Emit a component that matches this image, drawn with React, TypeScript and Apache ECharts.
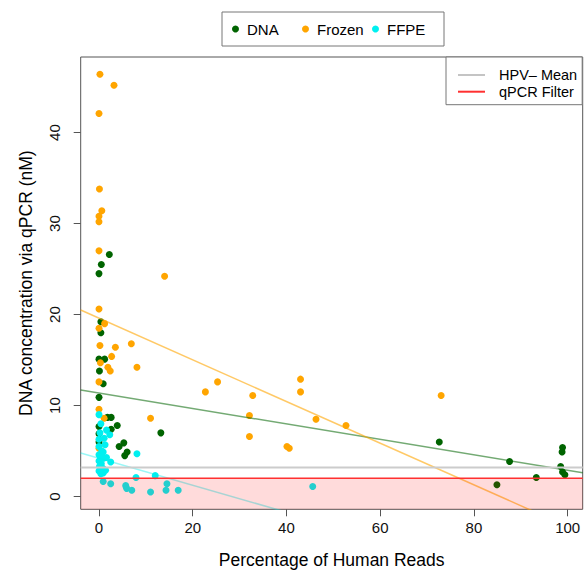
import React, { useEffect, useRef } from "react";
import * as echarts from "echarts";

// Sample measurements: [percentage of human reads, DNA concentration (nM)]
const dnaPoints: [number, number][] = [
  [2.2, 26.6], [0.5, 25.5], [0, 24.5], [0.4, 19.2], [0.4, 18.0], [0, 15.1], [1.2, 15.1],
  [0.1, 13.8], [0.9, 12.4], [0, 10.9], [1.8, 8.7], [2.6, 8.7], [0, 7.7], [3.9, 7.8],
  [2.6, 7.4], [13.2, 7.0], [0, 6.9], [0, 6.0], [5.3, 5.9], [4.3, 5.5], [6.0, 4.9],
  [5.5, 4.5], [72.6, 6.0], [87.6, 3.85], [93.3, 2.1], [84.9, 1.3], [98.9, 5.4],
  [98.8, 4.9], [98.5, 3.3], [98.9, 2.7], [99.4, 2.4],
];

const frozenPoints: [number, number][] = [
  [0.2, 46.4], [3.2, 45.2], [0, 42.1], [0.1, 33.8], [0.6, 31.4], [0, 30.8], [0, 30.2],
  [0, 27.0], [14.0, 24.2], [0, 20.6], [1.2, 19.0], [0, 18.5], [0.2, 16.6], [3.5, 16.4],
  [6.9, 16.8], [2.7, 15.4], [0.3, 14.7], [1.9, 14.2], [2.4, 13.8], [8.1, 14.2], [0, 12.6],
  [0, 9.6], [1.1, 8.6], [11.0, 8.6], [0, 5.3], [22.7, 11.5], [25.3, 12.6], [32.8, 11.1],
  [32.1, 8.9], [32.1, 6.6], [40.1, 5.5], [40.6, 5.3], [43.0, 12.9], [43.0, 11.5],
  [46.3, 8.5], [52.7, 7.8], [73.0, 11.1],
];

const ffpePoints: [number, number][] = [
  [0, 9.0], [0.4, 8.0], [0.2, 7.0], [1.6, 7.3], [2.3, 6.8], [1.1, 6.4], [0, 6.3], [1.3, 5.7],
  [0, 5.5], [0.6, 5.0], [0.9, 4.9], [8.1, 4.7], [0, 4.6], [0.3, 4.3], [1.6, 4.3], [1.0, 4.2],
  [0, 3.9], [2.5, 3.8], [0.5, 3.6], [0.1, 3.3], [0.8, 3.1], [1.4, 2.9], [0, 2.8], [0.9, 2.6],
  [0.4, 2.5], [7.9, 2.1], [12.0, 2.3], [0.9, 1.65], [2.5, 1.4], [5.7, 1.2], [5.9, 0.9],
  [7.0, 0.7], [11.0, 0.5], [14.3, 0.7], [14.5, 1.4], [16.9, 0.7], [45.6, 1.1],
];

// Fitted trend lines per sample type: [intercept, slope]
const dnaFit: [number, number] = [11.37, -0.0848];
const frozenFit: [number, number] = [19.6, -0.229];
const ffpeFit: [number, number] = [4.2, -0.148];

// Reference levels (nM)
const hpvNegMean = 3.2;
const qpcrFilter = 2.0;

const xTicks = [0, 20, 40, 60, 80, 100];
const yTicks = [0, 10, 20, 30, 40];

const X_MIN = -3.9;
const X_MAX = 103.2;
const Y_MIN = -1.4;
const Y_MAX = 48.3;

const FONT = "'Liberation Sans', Arial, Helvetica, sans-serif";

const fitLine = ([a, b]: [number, number]) => [
  [X_MIN, a + b * X_MIN],
  [X_MAX, a + b * X_MAX],
];

export default function App() {
  const ref = useRef<HTMLDivElement>(null);

  useEffect(() => {
    if (!ref.current) return;
    const chart = echarts.init(ref.current, undefined, { renderer: "svg" });

    const scatter = (name: string, data: [number, number][], color: string) => ({
      name,
      type: "scatter",
      data,
      symbol: "circle",
      symbolSize: 7,
      itemStyle: { color, opacity: 1 },
      z: 2,
      silent: true,
    });

    const trend = (name: string, fit: [number, number], color: string) => ({
      name,
      type: "line",
      data: fitLine(fit),
      showSymbol: false,
      clip: true,
      lineStyle: { color, width: 1.5 },
      itemStyle: { color },
      z: 3,
      silent: true,
    });

    chart.setOption({
      animation: false,
      textStyle: { fontFamily: FONT },
      grid: {
        left: 80.7,
        right: 1.3,
        top: 57,
        bottom: 68.7,
        show: true,
        borderColor: "#555",
        borderWidth: 1,
        backgroundColor: "transparent",
      },
      legend: [
        {
          data: ["DNA", "Frozen", "FFPE"],
          orient: "horizontal",
          left: 222,
          top: 12,
          padding: [8, 10],
          itemGap: 8,
          itemWidth: 7,
          itemHeight: 7,
          icon: "circle",
          borderColor: "#777",
          borderWidth: 1,
          textStyle: {
            fontFamily: FONT,
            fontSize: 15,
            color: "#000",
            width: 47,
            lineHeight: 18,
            padding: [0, 0, 0, 3],
          },
          selectedMode: false,
        },
        {
          data: [
            { name: "HPV– Mean", icon: "rect" },
            { name: "qPCR Filter", icon: "rect" },
          ],
          orient: "vertical",
          left: 446,
          top: 57,
          padding: [10, 5, 5, 12],
          itemGap: 0.7,
          itemWidth: 27,
          itemHeight: 2,
          borderColor: "#777",
          borderWidth: 1,
          backgroundColor: "#fff",
          textStyle: {
            fontFamily: FONT,
            fontSize: 14.5,
            color: "#000",
            lineHeight: 16,
            padding: [0, 0, 0, 9],
          },
          selectedMode: false,
        },
      ],
      xAxis: {
        type: "value",
        min: X_MIN,
        max: X_MAX,
        name: "Percentage of Human Reads",
        nameLocation: "middle",
        nameGap: 42,
        nameTextStyle: { fontFamily: FONT, fontSize: 17.5, color: "#000" },
        axisLine: { show: false, onZero: false },
        splitLine: { show: false },
        axisTick: {
          show: true,
          inside: false,
          length: 7,
          customValues: xTicks,
          lineStyle: { color: "#555", width: 1 },
        },
        axisLabel: {
          customValues: xTicks,
          fontFamily: FONT,
          fontSize: 15,
          color: "#111",
          margin: 11,
        },
      },
      yAxis: {
        type: "value",
        min: Y_MIN,
        max: Y_MAX,
        name: "DNA concentration via qPCR (nM)",
        nameLocation: "middle",
        nameGap: 46,
        nameTextStyle: { fontFamily: FONT, fontSize: 17.5, color: "#000" },
        axisLine: { show: false, onZero: false },
        splitLine: { show: false },
        axisTick: {
          show: true,
          inside: false,
          length: 7,
          customValues: yTicks,
          lineStyle: { color: "#555", width: 1 },
        },
        axisLabel: {
          customValues: yTicks,
          rotate: 90,
          fontFamily: FONT,
          fontSize: 15,
          color: "#111",
          margin: 19,
        },
      },
      series: [
        scatter("DNA", dnaPoints, "#006400"),
        scatter("Frozen", frozenPoints, "#FFA500"),
        scatter("FFPE", ffpePoints, "#00F0F0"),
        trend("DNA fit", dnaFit, "rgba(0,100,0,0.55)"),
        trend("Frozen fit", frozenFit, "rgba(255,165,0,0.6)"),
        trend("FFPE fit", ffpeFit, "rgba(0,235,235,0.4)"),
        {
          name: "HPV– Mean",
          type: "line",
          data: [
            [X_MIN, hpvNegMean],
            [X_MAX, hpvNegMean],
          ],
          showSymbol: false,
          lineStyle: { color: "#cccccc", width: 2 },
          itemStyle: { color: "#c4c4c4" },
          z: 4,
          silent: true,
        },
        {
          name: "qPCR Filter",
          type: "line",
          data: [
            [X_MIN, qpcrFilter],
            [X_MAX, qpcrFilter],
          ],
          showSymbol: false,
          lineStyle: { color: "#ff3030", width: 1.5 },
          itemStyle: { color: "#ff3030" },
          areaStyle: { origin: "start", color: "rgba(255,0,0,0.2)" },
          z: 5,
          silent: true,
        },
      ],
    });

    return () => chart.dispose();
  }, []);

  return (
    <div
      ref={ref}
      style={{ position: "fixed", left: 0, top: 0, width: 584, height: 578, background: "#fff" }}
    />
  );
}
